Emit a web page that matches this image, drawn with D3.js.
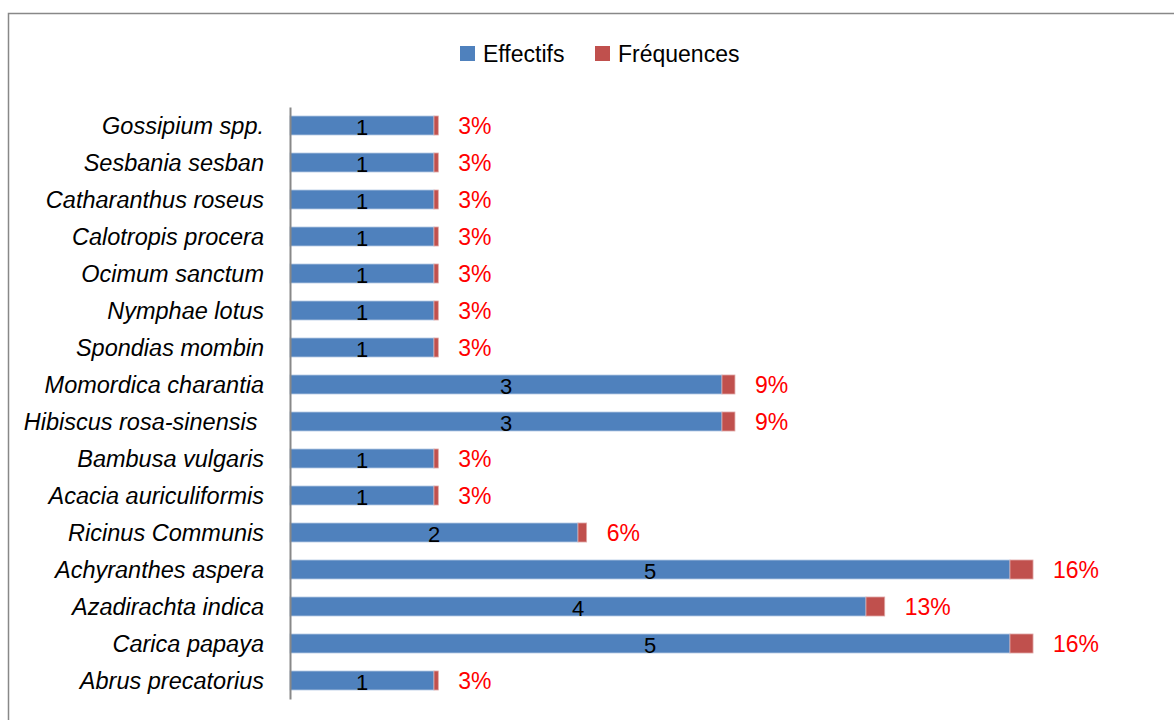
<!DOCTYPE html>
<html>
<head>
<meta charset="utf-8">
<script src="https://cdn.jsdelivr.net/npm/d3@7"></script>
<style>
  html, body { margin: 0; padding: 0; background: #fff; }
  svg { display: block; }
  text { font-family: "Liberation Sans", Arial, sans-serif; white-space: pre; }
</style>
</head>
<body>
<svg id="chart" width="1174" height="720"></svg>
<script>
// Species, top to bottom
const species = [
  "Gossipium spp.", "Sesbania sesban", "Catharanthus roseus", "Calotropis procera",
  "Ocimum sanctum", "Nymphae lotus", "Spondias mombin", "Momordica charantia",
  "Hibiscus rosa-sinensis ", "Bambusa vulgaris", "Acacia auriculiformis",
  "Ricinus Communis", "Achyranthes aspera", "Azadirachta indica",
  "Carica papaya", "Abrus precatorius"
];
// Number of citations per species
const effectifs = [1, 1, 1, 1, 1, 1, 1, 3, 3, 1, 1, 2, 5, 4, 5, 1];
// Relative frequency per species
const frequences = [0.03, 0.03, 0.03, 0.03, 0.03, 0.03, 0.03, 0.09, 0.09, 0.03, 0.03, 0.06, 0.16, 0.13, 0.16, 0.03];
const frequenceLabels = ["3%", "3%", "3%", "3%", "3%", "3%", "3%", "9%", "9%", "3%", "3%", "6%", "16%", "13%", "16%", "3%"];
const seriesNames = ["Effectifs", "Fréquences"];
const colors = ["#4f81bd", "#c0504d"];

const svg = d3.select("#chart");

// Chart frame (top and left edges visible)
svg.append("path")
  .attr("d", "M8.5,720 L8.5,13.5 L1174,13.5")
  .attr("fill", "none")
  .attr("stroke", "#888")
  .attr("stroke-width", 1.5);

const x = d3.scaleLinear().domain([0, 5]).range([290, 1010]);
const y = d3.scaleBand().domain(species).range([107, 699]).paddingInner(0.486).paddingOuter(0.243);

const rows = species.map((s, i) => ({ s, e: effectifs[i], f: frequences[i], lab: frequenceLabels[i] }));

// Effectifs segment
svg.append("g").selectAll("rect").data(rows).join("rect")
  .attr("x", x(0))
  .attr("y", d => y(d.s))
  .attr("width", d => x(d.e) - x(0))
  .attr("height", y.bandwidth())
  .attr("fill", colors[0])
  .attr("stroke", "#b7cbe4")
  .attr("stroke-width", 0.8);

// Fréquences segment stacked on top
svg.append("g").selectAll("rect").data(rows).join("rect")
  .attr("x", d => x(d.e))
  .attr("y", d => y(d.s))
  .attr("width", d => x(d.e + d.f) - x(d.e))
  .attr("height", y.bandwidth())
  .attr("fill", colors[1])
  .attr("stroke", "#e0a9a8")
  .attr("stroke-width", 0.8);

// Category axis
const yAxis = svg.append("g")
  .attr("transform", `translate(${x(0)},0)`)
  .call(d3.axisLeft(y).tickSize(0).tickPadding(26));
yAxis.select(".domain").attr("stroke", "#888").attr("stroke-width", 2);
yAxis.selectAll("text")
  .attr("font-size", 23.5)
  .attr("font-style", "italic")
  .attr("fill", "#000")
  .attr("dy", "0.36em")
  .style("font-family", "'Liberation Sans', Arial, sans-serif");

// Value labels inside blue segments
svg.append("g").selectAll("text").data(rows).join("text")
  .attr("x", d => (x(0) + x(d.e)) / 2)
  .attr("y", d => y(d.s) + y.bandwidth() / 2)
  .attr("dy", "0.42em")
  .attr("text-anchor", "middle")
  .attr("font-size", 22)
  .attr("fill", "#000")
  .text(d => d.e);

// Frequency labels past the bar end
svg.append("g").selectAll("text").data(rows).join("text")
  .attr("x", d => x(d.e + d.f) + 20)
  .attr("y", d => y(d.s) + y.bandwidth() / 2)
  .attr("dy", "0.38em")
  .attr("font-size", 23)
  .attr("fill", "#ff0000")
  .text(d => d.lab);

// Legend
const legend = svg.append("g");
const legendItems = [{ name: seriesNames[0], color: colors[0], x: 460 }, { name: seriesNames[1], color: colors[1], x: 595 }];
legendItems.forEach(it => {
  legend.append("rect").attr("x", it.x).attr("y", 46).attr("width", 15).attr("height", 15).attr("fill", it.color);
  legend.append("text").attr("x", it.x + 23).attr("y", 62).attr("font-size", 23).attr("fill", "#000").text(it.name);
});
</script>
</body>
</html>
